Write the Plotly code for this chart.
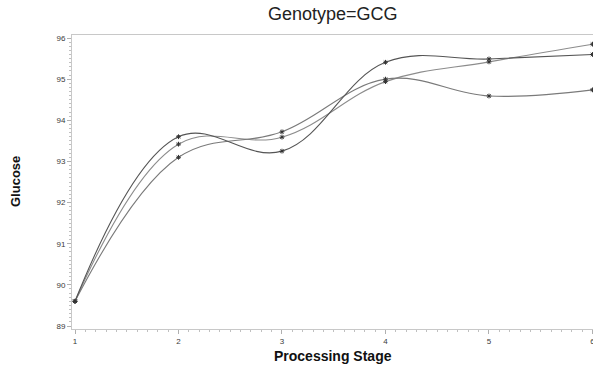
import plotly.graph_objects as go

# Mean glucose per processing stage, one line per group
stages = [1, 2, 3, 4, 5, 6]
glucose_a = [89.60, 93.60, 93.25, 95.41, 95.49, 95.60]
glucose_b = [89.60, 93.42, 93.59, 94.94, 95.42, 95.85]
glucose_c = [89.60, 93.10, 93.72, 95.00, 94.59, 94.74]

x_ticks = [1, 2, 3, 4, 5, 6]
y_ticks = [89, 90, 91, 92, 93, 94, 95, 96]

series = [
    (glucose_b, "#8c8c8c"),
    (glucose_c, "#7a7a7a"),
    (glucose_a, "#555555"),
]

FONT = "Arial, Liberation Sans, sans-serif"

fig = go.Figure()
for values, color in series:
    fig.add_trace(go.Scatter(
        x=stages, y=values,
        mode="lines+markers",
        line=dict(color=color, width=1.1, shape="spline", smoothing=1.1),
        marker=dict(symbol="asterisk-open", size=4, color="#333333",
                    line=dict(width=1, color="#333333")),
        showlegend=False,
        cliponaxis=False,
    ))

axis_common = dict(
    showgrid=False, zeroline=False,
    showline=True, linecolor="#c8c8c8", linewidth=1,
    ticks="outside", ticklen=4, tickcolor="#b0b0b0", tickwidth=1,
    tickfont=dict(family=FONT, size=8, color="#3a3a3a"),
    ticklabeloverflow="allow",
)

fig.update_layout(
    template="none",
    width=593, height=370,
    margin=dict(l=72, r=0, t=35, b=41),
    paper_bgcolor="white", plot_bgcolor="white",
    xaxis=dict(
        range=[0.971, 6.005], tickvals=x_ticks, ticktext=[str(v) for v in x_ticks],
        mirror=True,
        minor=dict(dtick=0.1, tick0=1, ticks="outside", ticklen=2, tickcolor="#c0c0c0"),
        **axis_common,
    ),
    yaxis=dict(
        range=[88.927, 96.073], tickvals=y_ticks, ticktext=[str(v) for v in y_ticks],
        mirror=True,
        minor=dict(dtick=0.1, tick0=89, ticks="outside", ticklen=2, tickcolor="#c0c0c0"),
        **axis_common,
    ),
    annotations=[
        dict(text="Genotype=GCG", xref="paper", yref="paper", x=0.5, y=1,
             yshift=21, showarrow=False, yanchor="middle",
             font=dict(family=FONT, size=18, color="#222222")),
        dict(text="<b>Processing Stage</b>", xref="paper", yref="paper", x=0.5, y=0,
             yshift=-27, showarrow=False, yanchor="middle",
             font=dict(family=FONT, size=14, color="#111111")),
        dict(text="<b>Glucose</b>", xref="paper", yref="paper", x=0, y=0.5,
             xshift=-57, showarrow=False, textangle=-90, xanchor="center",
             font=dict(family=FONT, size=13, color="#111111")),
    ],
)

fig.write_html("out.html")
